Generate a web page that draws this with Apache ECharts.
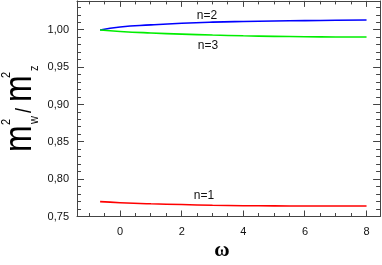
<!DOCTYPE html>
<html>
<head>
<meta charset="utf-8">
<script src="https://cdn.jsdelivr.net/npm/echarts@6/dist/echarts.min.js"></script>
<style>html,body{margin:0;padding:0;background:#fff;}#c{width:382px;height:265px;}</style>
</head>
<body>
<div id="c"></div>
<script>
// Data
const omega = [-0.65, 0, 1, 2, 3, 4, 5, 6, 7, 8];
const n1 = [0.770, 0.7685, 0.767, 0.766, 0.765, 0.7645, 0.7642, 0.7641, 0.764, 0.764];
const n2 = [1.000, 1.004, 1.0068, 1.009, 1.0105, 1.0114, 1.012, 1.0126, 1.013, 1.0134];
const n3 = [1.000, 0.998, 0.996, 0.9945, 0.9932, 0.9922, 0.9915, 0.991, 0.9907, 0.9906];
const seriesNames = ['n=1', 'n=2', 'n=3'];
// axis ranges and tick values
const xRange = [-1.4, 8.44];
const yRange = [0.75, 1.039];
const xLabelTicks = [0, 2, 4, 6, 8];
const yLabelTicks = [0.75, 0.80, 0.85, 0.90, 0.95, 1.00];
const xMinorTicks = [-1, -0.5, 0, 0.5, 1, 1.5, 2, 2.5, 3, 3.5, 4, 4.5, 5, 5.5, 6, 6.5, 7, 7.5, 8];
const yMinorTicks = [];
for (let i = 75; i <= 103; i++) yMinorTicks.push(i / 100);

const axisCol = '#444';
const font = 'Liberation Sans, Arial, sans-serif';
const lbl = { fontSize: 11, color: '#111', fontFamily: font };
const GRID = { left: 77, top: 0.9, width: 303.1, height: 215.6 };

const axisBase = (pos, r) => ({
  type: 'value', position: pos, min: r[0], max: r[1],
  axisLine: { show: true, onZero: false, lineStyle: { color: axisCol, width: 1 } },
  axisTick: { show: false }, splitLine: { show: false }
});

const chart = echarts.init(document.getElementById('c'), null, { renderer: 'canvas' });
const mk = (name, arr, color) => ({
  name, type: 'line', xAxisIndex: 0, yAxisIndex: 0, smooth: true, symbol: 'none',
  data: omega.map((x, i) => [x, arr[i]]),
  lineStyle: { color, width: 1.6 }, itemStyle: { color }
});

chart.setOption({
  animation: false,
  backgroundColor: '#fff',
  grid: GRID,
  xAxis: [
    Object.assign(axisBase('bottom', xRange), { axisLabel: Object.assign({ show: true, margin: 10, customValues: xLabelTicks }, lbl) }),
    Object.assign(axisBase('top', xRange), { axisLabel: { show: false } })
  ],
  yAxis: [
    Object.assign(axisBase('left', yRange), { axisLabel: Object.assign({ show: true, margin: 8, customValues: yLabelTicks,
      formatter: v => v.toFixed(2).replace('.', ',') }, lbl) }),
    Object.assign(axisBase('right', yRange), { axisLabel: { show: false } })
  ],
  series: [
    mk(seriesNames[0], n1, '#ff0000'),
    mk(seriesNames[1], n2, '#0000ff'),
    mk(seriesNames[2], n3, '#00ee00')
  ]
});

// tick positions from the chart's own scale, with a linear fallback on the same grid
function toPx(x, y) {
  let p = null;
  try { p = chart.convertToPixel({ xAxisIndex: 0, yAxisIndex: 0 }, [x, y]); } catch (e) { p = null; }
  if (!p || !isFinite(p[0]) || !isFinite(p[1])) {
    p = [GRID.left + (x - xRange[0]) / (xRange[1] - xRange[0]) * GRID.width,
         GRID.top + GRID.height - (y - yRange[0]) / (yRange[1] - yRange[0]) * GRID.height];
  }
  return p;
}
const cornerLB = toPx(xRange[0], yRange[0]);
const cornerRT = toPx(xRange[1], yRange[1]);
const pLeft = cornerLB[0], pBottom = cornerLB[1], pRight = cornerRT[0], pTop = cornerRT[1];
const snap = v => Math.round(v - 0.5) + 0.5;
const tickLine = (x1, y1, x2, y2) => ({ type: 'line', silent: true, z: 50,
  shape: { x1: x1, y1: y1, x2: x2, y2: y2 }, style: { stroke: axisCol, lineWidth: 1 } });
const tickEls = [];
xMinorTicks.forEach(v => {
  const x = snap(toPx(v, yRange[0])[0]);
  const len = xLabelTicks.includes(v) ? 6 : 3.5;
  tickEls.push(tickLine(x, pBottom, x, pBottom - len), tickLine(x, pTop, x, pTop + len));
});
yMinorTicks.forEach(v => {
  const y = snap(toPx(xRange[0], v)[1]);
  const major = yLabelTicks.some(t => Math.abs(t - v) < 1e-9);
  const len = major ? 7 : 4;
  tickEls.push(tickLine(pLeft, y, pLeft + len, y), tickLine(pRight, y, pRight - len, y));
});

const S = 1.2;
chart.setOption({
  graphic: { elements: tickEls.concat([
    { type: 'text', x: 207, y: 15.5, style: { text: seriesNames[1], font: '12px ' + font, fill: '#111', align: 'center', verticalAlign: 'middle' } },
    { type: 'text', x: 208, y: 45.5, style: { text: seriesNames[2], font: '12px ' + font, fill: '#111', align: 'center', verticalAlign: 'middle' } },
    { type: 'text', x: 204, y: 196, style: { text: seriesNames[0], font: '12px ' + font, fill: '#111', align: 'center', verticalAlign: 'middle' } },
    { type: 'text', x: 222, y: 251, style: { text: 'ω', font: 'bold 21px Liberation Serif, Times New Roman, serif', fill: '#000', align: 'center', verticalAlign: 'middle' } },
    {
      type: 'group', x: 32, y: 150, rotation: Math.PI / 2, scaleY: S,
      children: [
        { type: 'text', x: -2, y: -9.5, style: { text: 'm', font: '32px ' + font, fill: '#000', verticalAlign: 'middle' } },
        { type: 'text', x: 25, y: -21.3, style: { text: '2', font: '11px ' + font, fill: '#000', verticalAlign: 'middle' } },
        { type: 'text', x: 26, y: 2, style: { text: 'w', font: '11px ' + font, fill: '#000', verticalAlign: 'middle' } },
        { type: 'text', x: 37, y: -5.8, style: { text: '/', font: '18px ' + font, fill: '#000', verticalAlign: 'middle' } },
        { type: 'text', x: 48, y: -9.5, style: { text: 'm', font: '32px ' + font, fill: '#000', verticalAlign: 'middle' } },
        { type: 'text', x: 72, y: -21.3, style: { text: '2', font: '11px ' + font, fill: '#000', verticalAlign: 'middle' } },
        { type: 'text', x: 79, y: 2, style: { text: 'z', font: '11px ' + font, fill: '#000', verticalAlign: 'middle' } }
      ]
    }
  ]) }
});
</script>
</body>
</html>
